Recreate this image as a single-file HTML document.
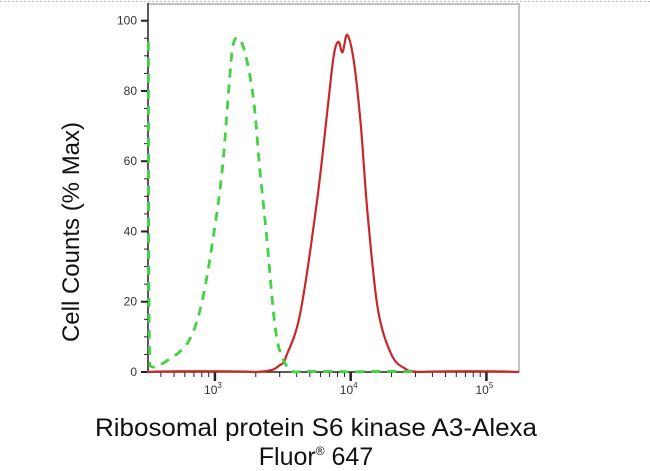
<!DOCTYPE html>
<html><head><meta charset="utf-8"><style>
html,body{margin:0;padding:0;background:#fff;width:650px;height:471px;overflow:hidden}
text{font-family:"Liberation Sans",sans-serif}
</style></head><body>
<svg id="chart" width="650" height="471" viewBox="0 0 650 471" xmlns="http://www.w3.org/2000/svg">
<line x1="0" y1="1.5" x2="650" y2="1.5" stroke="#bbb" stroke-dasharray="2,2"/>
<rect x="148" y="4" width="371" height="368" fill="none" stroke="#888" stroke-width="1"/>
<g id="axes"></g>
<g id="series"></g>
<text transform="translate(79,232) rotate(-90)" text-anchor="middle" font-size="24" fill="#111">Cell Counts (% Max)</text>
<text x="316" y="436" text-anchor="middle" font-size="25" fill="#111" textLength="442" lengthAdjust="spacingAndGlyphs">Ribosomal protein S6 kinase A3-Alexa</text>
<text x="316" y="465" text-anchor="middle" font-size="25" fill="#111">Fluor<tspan font-size="12" dy="-10">®</tspan><tspan dy="10"> 647</tspan></text>
</svg>
<script>
const yTicks=[0,20,40,60,80,100];
const xDecades=[3,4,5];
const controlLog=[2.51,2.52,2.67,2.81,2.905,2.99,3.055,3.105,3.14,3.205,3.28,3.33,3.38,3.45,3.53,3.60,4.0,4.5];
const controlVal=[94,2,3.8,9,20,39,58,82,94,93,79,58,39,11,1.5,0,0,0];
const sampleLog=[2.5,3.30,3.48,3.53,3.63,3.75,3.83,3.875,3.91,3.94,3.975,4.025,4.075,4.125,4.2,4.3,4.4,4.51,5.24];
const sampleVal=[0,0,2,5,17,48,75,90,94,91,96,88,70,45,18,5,1,0,0];

const X0=148,X1=519,Y0=372,Y100=20.7;
const LMIN=2.507,LMAX=5.24;
const xs=l=>X0+(l-LMIN)/(LMAX-LMIN)*(X1-X0);
const ys=v=>Y0-(v/100)*(Y0-Y100);
const NS="http://www.w3.org/2000/svg";
const ax=document.getElementById('axes'),se=document.getElementById('series');
function mk(tag,at,par){const e=document.createElementNS(NS,tag);for(const k in at)e.setAttribute(k,at[k]);par.appendChild(e);return e;}
let l=mk('line',{x1:X0,y1:3,x2:X0,y2:Y0,stroke:'#222','stroke-width':1.5},ax);


l=mk('line',{x1:X0,y1:Y0,x2:X1,y2:Y0,stroke:'#222','stroke-width':1.5},ax);


for(let v=0;v<=100;v+=5){
  const major=v%20===0;
  const t=mk('line',{x1:major?X0-7:X0-4,y1:ys(v),x2:X0,y2:ys(v),stroke:'#222','stroke-width':major?2:1},ax);
  
  
}
yTicks.forEach(v=>{
  const t=mk('text',{x:X0-11,y:ys(v)+4,'text-anchor':'end','font-size':12,fill:'#333'},ax);
  t.textContent=v;
  
  
});
for(let d=2;d<=5;d++){
  for(let m=1;m<=9;m++){
    const lg=d+Math.log10(m);
    if(lg<LMIN||lg>LMAX)continue;
    const major=m===1;
    const t=mk('line',{x1:xs(lg),y1:Y0,x2:xs(lg),y2:Y0+(major?9:5),stroke:'#222','stroke-width':major?2.5:1},ax);
    
    
  }
}
xDecades.forEach(d=>{
  const t=mk('text',{x:xs(d)-2,y:Y0+22,'text-anchor':'middle','font-size':12,fill:'#333'},ax);
  t.textContent='10';
  const s=mk('tspan',{'font-size':8,dy:-6},t);s.textContent=d;
  
  
});
function path(L,V){
  const P=L.map((lg,i)=>[xs(lg),ys(V[i])]);
  const cy=y=>Math.min(Y0-1,y);
  let d='M'+P[0][0].toFixed(1)+','+P[0][1].toFixed(1);
  for(let i=0;i<P.length-1;i++){
    const p0=P[i-1]||P[i],p1=P[i],p2=P[i+1],p3=P[i+2]||p2;
    const c1=[p1[0]+(p2[0]-p0[0])/6,cy(p1[1]+(p2[1]-p0[1])/6)];
    const c2=[p2[0]-(p3[0]-p1[0])/6,cy(p2[1]-(p3[1]-p1[1])/6)];
    c1[0]=Math.min(Math.max(c1[0],p1[0]),p2[0]);c2[0]=Math.min(Math.max(c2[0],p1[0]),p2[0]);
    d+=' C'+c1[0].toFixed(1)+','+c1[1].toFixed(1)+' '+c2[0].toFixed(1)+','+c2[1].toFixed(1)+' '+p2[0].toFixed(1)+','+p2[1].toFixed(1);
  }
  return d;
}
let p=mk('path',{d:path(sampleLog,sampleVal),fill:'none',stroke:'#c8282a','stroke-width':2.2,'stroke-linejoin':'round'},se);


p=mk('path',{d:path(controlLog,controlVal),fill:'none',stroke:'#44d244','stroke-width':2.8,'stroke-dasharray':'9,7','stroke-linejoin':'round'},se);


</script>
</body></html>
